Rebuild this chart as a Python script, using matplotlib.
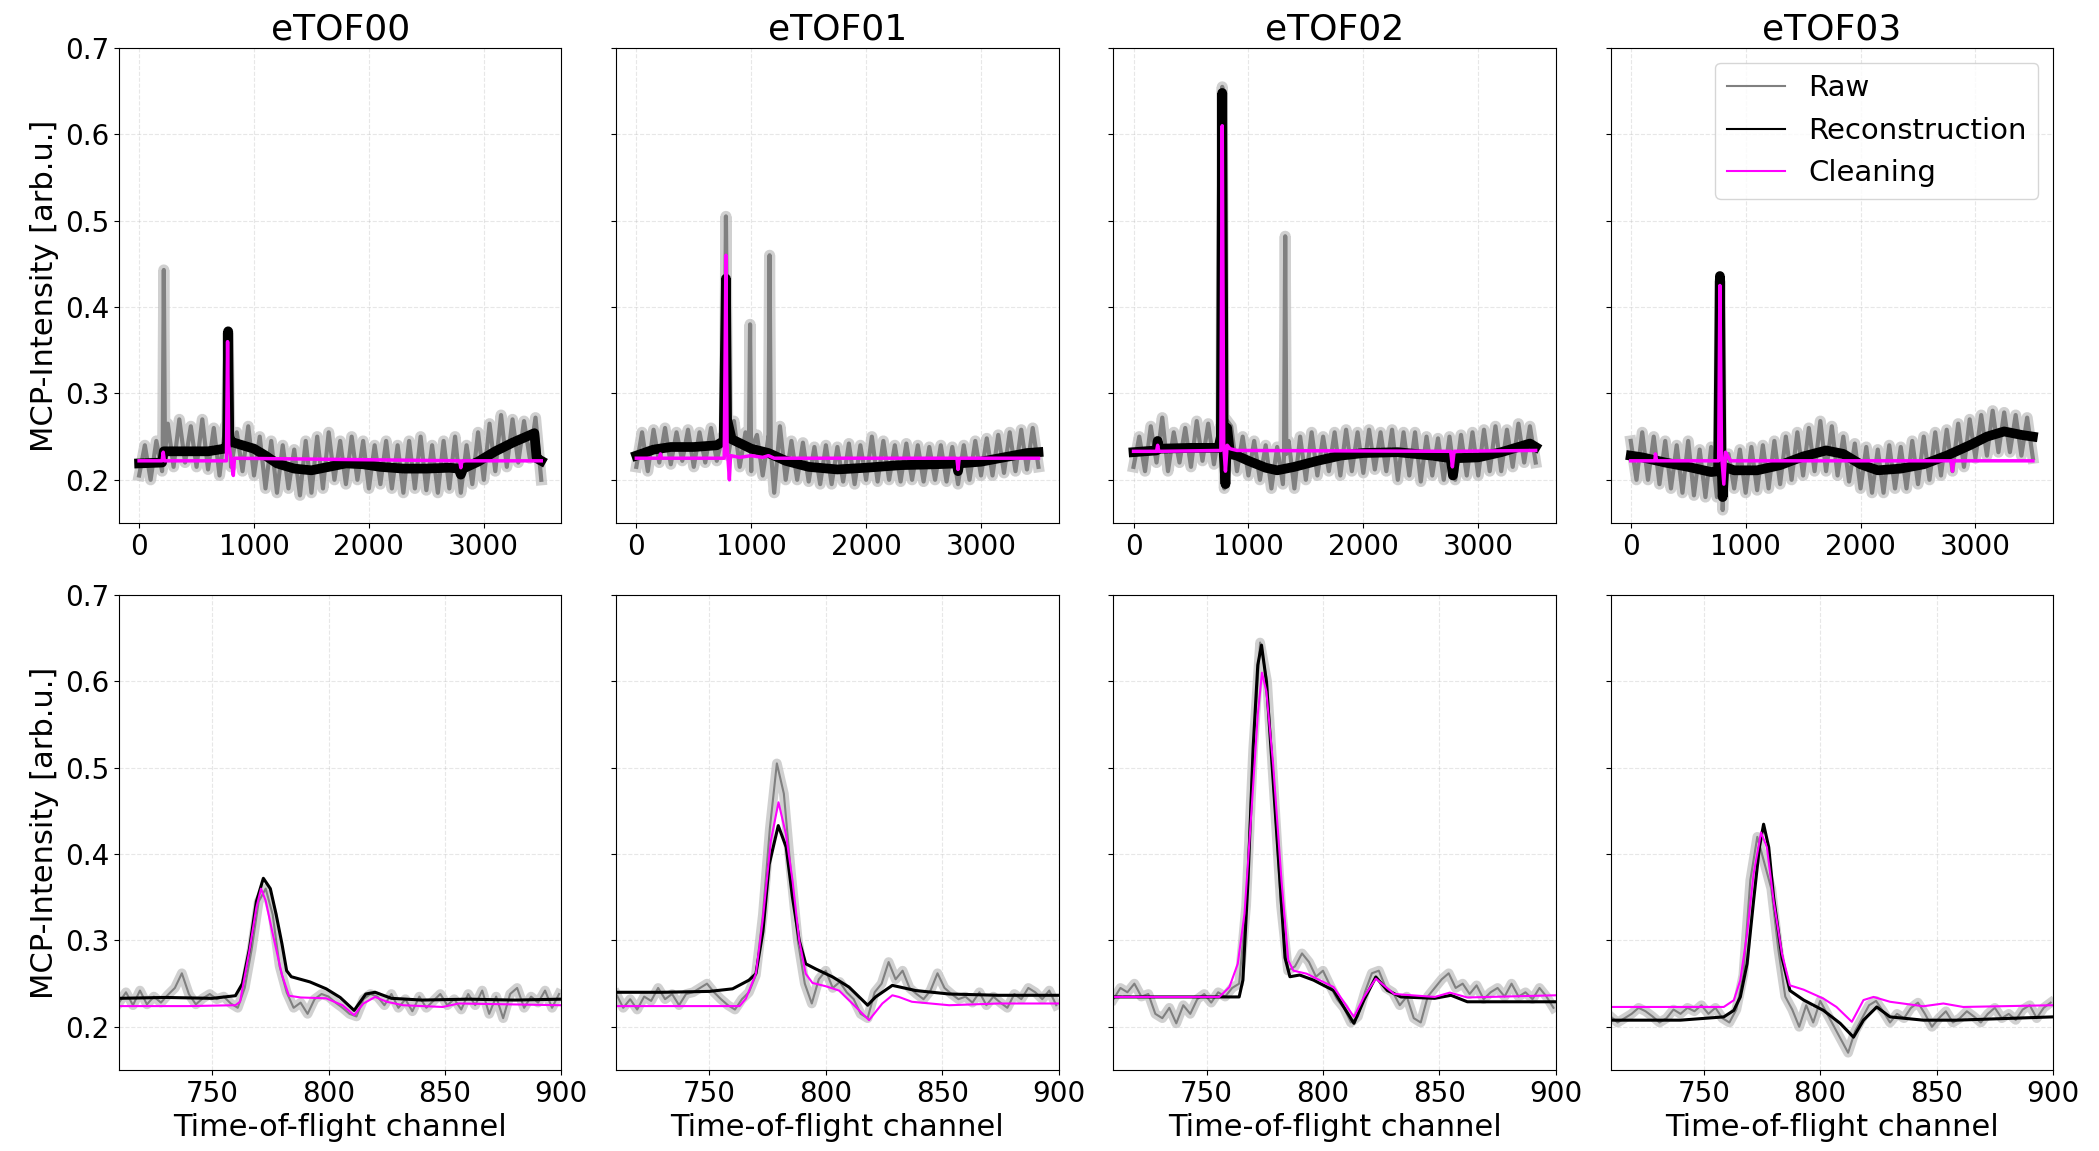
import numpy as np
import matplotlib
matplotlib.use('Agg')
import matplotlib.pyplot as plt
from matplotlib.lines import Line2D

detectors = ['eTOF00', 'eTOF01', 'eTOF02', 'eTOF03']

# ---- full spectrum (top row) ----
# raw read every 50 channels, narrow spikes listed separately
raw_step = 50
raw00 = [0.205, 0.24, 0.2, 0.245, 0.21, 0.265, 0.215, 0.27, 0.22, 0.262,
         0.215, 0.27, 0.212, 0.26, 0.205, 0.262, 0.215, 0.255, 0.21, 0.262,
         0.205, 0.25, 0.19, 0.245, 0.185, 0.24, 0.19, 0.235, 0.182, 0.245,
         0.185, 0.25, 0.19, 0.255, 0.2, 0.245, 0.195, 0.25, 0.2, 0.245,
         0.19, 0.24, 0.195, 0.245, 0.19, 0.24, 0.185, 0.245, 0.19, 0.25,
         0.188, 0.24, 0.185, 0.245, 0.19, 0.25, 0.185, 0.24, 0.195, 0.255,
         0.2, 0.265, 0.21, 0.275, 0.215, 0.27, 0.22, 0.268, 0.225, 0.272,
         0.2]
raw00_spk_ch = [205, 215, 225, 760, 775, 790]
raw00_spk = [0.23, 0.443, 0.23, 0.24, 0.37, 0.25]
rec00_ch = [0, 200, 215, 400, 600, 740, 765, 775, 785, 800, 900, 1000, 1100, 1200, 1350, 1500,
            1650, 1800, 1950, 2100, 2300, 2500, 2700, 2780, 2800, 2820, 2950, 3100, 3250, 3440, 3460, 3500]
rec00 = [0.219, 0.22, 0.233, 0.233, 0.233, 0.236, 0.24, 0.372, 0.25, 0.244, 0.24, 0.236, 0.228, 0.219, 0.213, 0.211,
         0.215, 0.219, 0.218, 0.215, 0.213, 0.213, 0.214, 0.213, 0.206, 0.213, 0.221, 0.233, 0.243, 0.254, 0.225, 0.222]
cln00_ch = [0, 200, 210, 220, 760, 770, 780, 800, 820, 830, 2790, 2800, 2810, 3500]
cln00 = [0.222, 0.222, 0.232, 0.222, 0.222, 0.36, 0.24, 0.225, 0.205, 0.225, 0.222, 0.214, 0.222, 0.222]

raw01 = [0.215, 0.255, 0.21, 0.258, 0.22, 0.26, 0.218, 0.255, 0.222, 0.258,
         0.215, 0.255, 0.22, 0.26, 0.222, 0.25, 0.228, 0.268, 0.215, 0.255,
         0.21, 0.252, 0.205, 0.25, 0.185, 0.262, 0.2, 0.245, 0.2, 0.243,
         0.198, 0.238, 0.195, 0.24, 0.195, 0.238, 0.198, 0.242, 0.195, 0.24,
         0.2, 0.25, 0.198, 0.245, 0.2, 0.24, 0.198, 0.242, 0.2, 0.24,
         0.198, 0.238, 0.2, 0.24, 0.198, 0.238, 0.195, 0.24, 0.2, 0.245,
         0.205, 0.248, 0.205, 0.252, 0.208, 0.255, 0.21, 0.258, 0.212, 0.26,
         0.215]
raw01_spk_ch = [765, 780, 795, 980, 990, 1000, 1150, 1160, 1170]
raw01_spk = [0.24, 0.505, 0.26, 0.235, 0.38, 0.235, 0.235, 0.46, 0.235]
rec01_ch = [0, 150, 300, 500, 700, 760, 780, 790, 830, 1000, 1150, 1300, 1500, 1750, 2000, 2300,
            2600, 2790, 2800, 2810, 3000, 3200, 3400, 3500]
rec01 = [0.228, 0.235, 0.238, 0.238, 0.24, 0.245, 0.433, 0.27, 0.247, 0.236, 0.231, 0.222, 0.215, 0.212, 0.214, 0.217,
         0.218, 0.219, 0.21, 0.219, 0.221, 0.226, 0.231, 0.232]
cln01_ch = [0, 200, 210, 220, 765, 780, 790, 810, 820, 900, 1000, 1100, 1150, 1200, 2790, 2800, 2810, 3500]
cln01 = [0.225, 0.225, 0.23, 0.225, 0.225, 0.46, 0.24, 0.2, 0.228, 0.226, 0.228, 0.226, 0.228, 0.225,
         0.225, 0.212, 0.225, 0.225]

raw02 = [0.215, 0.25, 0.21, 0.262, 0.22, 0.272, 0.21, 0.255, 0.22, 0.26,
         0.215, 0.268, 0.222, 0.265, 0.218, 0.26, 0.2, 0.262, 0.21, 0.25,
         0.205, 0.245, 0.2, 0.24, 0.19, 0.238, 0.195, 0.245, 0.19, 0.25,
         0.2, 0.255, 0.205, 0.25, 0.21, 0.255, 0.205, 0.258, 0.21, 0.255,
         0.208, 0.258, 0.212, 0.255, 0.21, 0.258, 0.2, 0.255, 0.205, 0.255,
         0.198, 0.25, 0.205, 0.248, 0.2, 0.25, 0.2, 0.252, 0.205, 0.255,
         0.205, 0.258, 0.21, 0.262, 0.21, 0.258, 0.215, 0.265, 0.22, 0.262,
         0.22]
raw02_spk_ch = [760, 772, 790, 805, 1310, 1320, 1330]
raw02_spk = [0.24, 0.655, 0.19, 0.27, 0.23, 0.482, 0.23]
rec02_ch = [0, 200, 210, 220, 500, 740, 760, 772, 785, 800, 815, 840, 900, 1000, 1150, 1250, 1400,
            1600, 1800, 2000, 2300, 2600, 2760, 2780, 2800, 3000, 3200, 3450, 3500]
rec02 = [0.232, 0.234, 0.245, 0.236, 0.237, 0.237, 0.25, 0.648, 0.23, 0.195, 0.26, 0.23, 0.228, 0.222, 0.214, 0.211, 0.215,
         0.222, 0.228, 0.231, 0.232, 0.228, 0.225, 0.205, 0.225, 0.226, 0.232, 0.242, 0.238]
cln02_ch = [0, 200, 210, 220, 760, 772, 785, 800, 815, 840, 900, 2760, 2775, 2790, 3500]
cln02 = [0.233, 0.233, 0.24, 0.233, 0.234, 0.61, 0.24, 0.21, 0.24, 0.236, 0.234, 0.233, 0.215, 0.233, 0.234]

raw03 = [0.245, 0.2, 0.255, 0.2, 0.25, 0.195, 0.245, 0.19, 0.24, 0.185,
         0.245, 0.182, 0.235, 0.18, 0.238, 0.18, 0.2, 0.23, 0.19, 0.235,
         0.185, 0.238, 0.188, 0.24, 0.19, 0.245, 0.195, 0.25, 0.2, 0.255,
         0.205, 0.26, 0.21, 0.268, 0.21, 0.262, 0.205, 0.25, 0.198, 0.242,
         0.19, 0.238, 0.185, 0.235, 0.185, 0.24, 0.19, 0.238, 0.19, 0.245,
         0.195, 0.25, 0.2, 0.255, 0.205, 0.258, 0.21, 0.265, 0.215, 0.27,
         0.225, 0.275, 0.228, 0.28, 0.232, 0.278, 0.232, 0.275, 0.228, 0.272,
         0.225]
raw03_spk_ch = [765, 776, 790, 800, 810]
raw03_spk = [0.21, 0.43, 0.2, 0.165, 0.22]
rec03_ch = [0, 100, 300, 500, 700, 760, 776, 790, 800, 815, 900, 1100, 1300, 1500, 1700, 1850, 2000,
            2150, 2350, 2550, 2750, 2950, 3100, 3250, 3400, 3500]
rec03 = [0.228, 0.226, 0.22, 0.215, 0.209, 0.21, 0.436, 0.22, 0.18, 0.215, 0.211, 0.211, 0.217, 0.227, 0.234, 0.23, 0.218,
         0.211, 0.213, 0.218, 0.228, 0.24, 0.25, 0.256, 0.252, 0.25]
cln03_ch = [0, 210, 215, 225, 765, 776, 790, 810, 825, 850, 870, 2790, 2800, 2810, 3500]
cln03 = [0.222, 0.222, 0.23, 0.222, 0.222, 0.425, 0.23, 0.195, 0.232, 0.226, 0.222, 0.222, 0.21, 0.222, 0.222]

# ---- zoom around the main peak (bottom row) ----
zraw_start, zraw_step = 710, 3
zraw00 = [0.228, 0.24, 0.225, 0.242, 0.226, 0.235, 0.228, 0.237, 0.245, 0.262,
          0.238, 0.226, 0.233, 0.238, 0.232, 0.235, 0.227, 0.222, 0.245, 0.29,
          0.345, 0.36, 0.33, 0.27, 0.24, 0.222, 0.228, 0.215, 0.232, 0.238,
          0.235, 0.228, 0.222, 0.215, 0.212, 0.232, 0.238, 0.235, 0.225, 0.238,
          0.222, 0.232, 0.218, 0.235, 0.222, 0.23, 0.238, 0.225, 0.232, 0.22,
          0.238, 0.225, 0.242, 0.215, 0.235, 0.21, 0.238, 0.245, 0.222, 0.235,
          0.228, 0.242, 0.222, 0.238]
zrec00_ch = [710, 730, 750, 760, 763, 766, 769, 772, 775, 777.5, 780, 782, 784, 792, 799, 805,
             811, 816, 820, 827, 840, 860, 880, 900]
zrec00 = [0.233, 0.234, 0.233, 0.236, 0.25, 0.29, 0.345, 0.372, 0.36, 0.33, 0.296, 0.265, 0.258, 0.252, 0.244, 0.234,
          0.219, 0.238, 0.24, 0.233, 0.231, 0.232, 0.231, 0.232]
zcln00_ch = [710, 740, 760, 762, 766, 769, 771, 773, 776, 780, 783, 788, 799, 806, 811, 815,
             820, 825, 832, 849, 856, 900]
zcln00 = [0.224, 0.224, 0.225, 0.229, 0.288, 0.338, 0.36, 0.346, 0.308, 0.26, 0.236, 0.234, 0.233, 0.225, 0.2135, 0.227,
          0.2346, 0.229, 0.225, 0.223, 0.227, 0.225]

zraw01 = [0.238, 0.222, 0.232, 0.22, 0.235, 0.23, 0.245, 0.232, 0.238, 0.225,
          0.238, 0.24, 0.245, 0.25, 0.24, 0.232, 0.225, 0.22, 0.232, 0.24,
          0.26, 0.33, 0.43, 0.505, 0.47, 0.38, 0.3, 0.25, 0.227, 0.255,
          0.265, 0.245, 0.252, 0.24, 0.232, 0.215, 0.21, 0.24, 0.25, 0.275,
          0.255, 0.265, 0.245, 0.238, 0.232, 0.242, 0.262, 0.245, 0.238, 0.232,
          0.235, 0.228, 0.24, 0.225, 0.235, 0.228, 0.222, 0.238, 0.232, 0.245,
          0.24, 0.232, 0.242, 0.225]
zrec01_ch = [710, 730, 750, 760, 767, 770, 773, 775.7, 779.6, 783, 785.7, 788.6, 791.4, 795.7, 803, 810,
             818, 821.4, 828.6, 838.6, 853, 874, 900]
zrec01 = [0.240, 0.240, 0.241, 0.244, 0.254, 0.2615, 0.31, 0.388, 0.433, 0.408, 0.35, 0.3, 0.273, 0.267, 0.2577, 0.246,
          0.225, 0.2346, 0.248, 0.242, 0.238, 0.2365, 0.2365]
zcln01_ch = [710, 740, 763, 765.7, 770, 772.9, 776.4, 779.7, 782.9, 785.7, 788.6, 791.4, 794.3, 800, 805.7, 811.4,
             818.6, 824.3, 828.6, 831.4, 837, 853, 874, 900]
zcln01 = [0.224, 0.224, 0.224, 0.2327, 0.2615, 0.323, 0.415, 0.46, 0.423, 0.37, 0.3, 0.2615, 0.2508, 0.247, 0.242, 0.227,
          0.2077, 0.227, 0.2365, 0.2346, 0.229, 0.225, 0.227, 0.227]

zraw02 = [0.232, 0.245, 0.24, 0.25, 0.235, 0.238, 0.215, 0.21, 0.222, 0.204,
          0.225, 0.215, 0.232, 0.238, 0.228, 0.24, 0.235, 0.245, 0.25, 0.34,
          0.52, 0.645, 0.6, 0.47, 0.34, 0.265, 0.27, 0.285, 0.275, 0.258,
          0.265, 0.248, 0.232, 0.222, 0.205, 0.212, 0.24, 0.262, 0.265, 0.245,
          0.24, 0.225, 0.235, 0.21, 0.205, 0.235, 0.245, 0.255, 0.262, 0.245,
          0.25, 0.238, 0.248, 0.232, 0.24, 0.245, 0.235, 0.25, 0.235, 0.24,
          0.232, 0.245, 0.235, 0.222]
zrec02_ch = [710, 740, 764, 765.6, 767.8, 770, 772, 773.6, 775.7, 778.6, 781.5, 783.7, 785.8, 790, 796, 804.6,
             808.9, 813.3, 817.6, 822.7, 827.7, 833.5, 848, 855, 862, 900]
zrec02 = [0.2346, 0.2346, 0.2346, 0.254, 0.369, 0.523, 0.619, 0.642, 0.6, 0.485, 0.369, 0.28, 0.258, 0.26, 0.254, 0.242,
          0.223, 0.204, 0.231, 0.2577, 0.242, 0.2346, 0.233, 0.2365, 0.229, 0.229]
zcln02_ch = [710, 740, 755.5, 759.8, 763.4, 766.3, 769.2, 772, 773.8, 775.7, 778.6, 782.2, 785.1, 787.3, 793, 804.6,
             813.3, 817.6, 822.7, 830.6, 848, 854.5, 862, 900]
zcln02 = [0.2346, 0.2346, 0.2346, 0.246, 0.273, 0.331, 0.446, 0.5615, 0.61, 0.588, 0.504, 0.369, 0.277, 0.265, 0.2615, 0.246,
          0.2115, 0.2346, 0.2558, 0.238, 0.2346, 0.2396, 0.234, 0.2365]

zraw03 = [0.212, 0.205, 0.21, 0.215, 0.222, 0.218, 0.212, 0.205, 0.21, 0.22,
          0.215, 0.222, 0.218, 0.225, 0.215, 0.222, 0.21, 0.205, 0.22, 0.26,
          0.37, 0.42, 0.39, 0.36, 0.29, 0.235, 0.22, 0.2, 0.225, 0.205,
          0.23, 0.215, 0.2, 0.185, 0.17, 0.195, 0.21, 0.225, 0.23, 0.218,
          0.205, 0.215, 0.21, 0.222, 0.228, 0.215, 0.2, 0.21, 0.218, 0.205,
          0.21, 0.218, 0.212, 0.205, 0.215, 0.222, 0.21, 0.215, 0.208, 0.22,
          0.225, 0.21, 0.222, 0.228]
zrec03_ch = [710, 740, 758.6, 762.9, 765.7, 768.6, 771.4, 773.9, 775.7, 777.9, 780, 783.6, 787, 792.9, 801.4, 808.6,
             814.3, 818.6, 824.3, 830, 844.3, 858.6, 900]
zrec03 = [0.2077, 0.2077, 0.2115, 0.219, 0.2346, 0.273, 0.346, 0.408, 0.4346, 0.408, 0.35, 0.28, 0.242, 0.231, 0.219, 0.204,
          0.188, 0.2077, 0.223, 0.2115, 0.2077, 0.2077, 0.2115]
zcln03_ch = [710, 740, 758.6, 762.9, 765.7, 768.6, 771.4, 774.6, 777.1, 780, 783.6, 787, 792.9, 801.4, 807, 813.6,
             818.6, 822.9, 830, 844.3, 852.9, 861.4, 900]
zcln03 = [0.223, 0.223, 0.223, 0.2308, 0.254, 0.308, 0.377, 0.425, 0.408, 0.346, 0.2846, 0.248, 0.243, 0.2327, 0.223, 0.2058,
          0.231, 0.2346, 0.229, 0.2238, 0.227, 0.223, 0.225]

top_raw = [(raw00, raw00_spk_ch, raw00_spk), (raw01, raw01_spk_ch, raw01_spk),
           (raw02, raw02_spk_ch, raw02_spk), (raw03, raw03_spk_ch, raw03_spk)]
top_rec = [(rec00_ch, rec00), (rec01_ch, rec01), (rec02_ch, rec02), (rec03_ch, rec03)]
top_cln = [(cln00_ch, cln00), (cln01_ch, cln01), (cln02_ch, cln02), (cln03_ch, cln03)]
bot_raw = [zraw00, zraw01, zraw02, zraw03]
bot_rec = [(zrec00_ch, zrec00), (zrec01_ch, zrec01), (zrec02_ch, zrec02), (zrec03_ch, zrec03)]
bot_cln = [(zcln00_ch, zcln00), (zcln01_ch, zcln01), (zcln02_ch, zcln02), (zcln03_ch, zcln03)]


def merge_raw(vals, spk_ch, spk):
    ch = np.concatenate([np.arange(len(vals)) * raw_step, spk_ch])
    y = np.concatenate([vals, spk])
    o = np.argsort(ch, kind='stable')
    return ch[o], y[o]


fig, axes = plt.subplots(2, 4, figsize=(20.99, 11.51), dpi=100, sharey=True)
fig.subplots_adjust(left=119/2099, right=2053/2099, top=1-48/1151, bottom=1-1070/1151,
                    wspace=0.124, hspace=0.1516)

for i, name in enumerate(detectors):
    ax = axes[0, i]
    x, y = merge_raw(*top_raw[i])
    ax.plot(x, y, color='#bdbdbd', lw=8, alpha=0.7)
    ax.plot(x, y, color='gray', lw=3)
    ax.plot(top_rec[i][0], top_rec[i][1], color='black', lw=7)
    ax.plot(top_cln[i][0], top_cln[i][1], color='magenta', lw=2.5)
    ax.set_xlim(-175, 3675)
    ax.set_xticks([0, 1000, 2000, 3000])
    ax.set_title(name, fontsize=26)

    ax = axes[1, i]
    zx = zraw_start + zraw_step * np.arange(len(bot_raw[i]))
    ax.plot(zx, bot_raw[i], color='#bdbdbd', lw=7, alpha=0.7)
    ax.plot(zx, bot_raw[i], color='gray', lw=1.5)
    ax.plot(bot_rec[i][0], bot_rec[i][1], color='black', lw=2.2)
    ax.plot(bot_cln[i][0], bot_cln[i][1], color='magenta', lw=1.5)
    ax.set_xlim(710, 900)
    ax.set_xticks([750, 800, 850, 900])
    ax.set_xlabel('Time-of-flight channel', fontsize=22)

for ax in axes.flat:
    ax.set_ylim(0.15, 0.7)
    ax.set_yticks([0.2, 0.3, 0.4, 0.5, 0.6, 0.7])
    ax.grid(True, linestyle='--', lw=0.8, alpha=0.3)
    ax.tick_params(labelsize=20)

axes[0, 0].set_ylabel('MCP-Intensity [arb.u.]', fontsize=22)
axes[1, 0].set_ylabel('MCP-Intensity [arb.u.]', fontsize=22)

handles = [Line2D([], [], color='gray', lw=1.5),
           Line2D([], [], color='black', lw=1.5),
           Line2D([], [], color='magenta', lw=1.5)]
axes[0, 3].legend(handles, ['Raw', 'Reconstruction', 'Cleaning'], loc='upper right', fontsize=21)

fig.savefig('out.png', dpi=100)
